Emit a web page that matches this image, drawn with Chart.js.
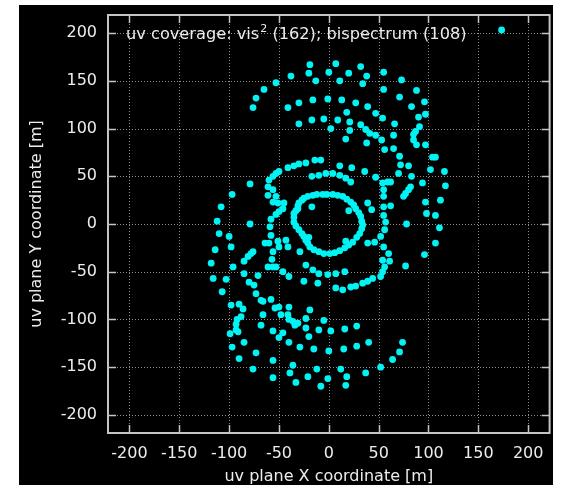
<!DOCTYPE html>
<html>
<head>
<meta charset="utf-8">
<script src="https://cdn.jsdelivr.net/npm/chart.js@4.4.1/dist/chart.umd.min.js"></script>
<style>
  html, body { margin: 0; padding: 0; background: #ffffff; }
  #wrap { position: absolute; left: 19px; top: 5px; width: 534px; height: 480px; background: #000000; }
  canvas { display: block; }
</style>
</head>
<body>
<div id="wrap"><canvas id="uv" width="534" height="480"></canvas></div>
<script>
// Axis ticks and limits (metres)
const tickValues = [-200, -150, -100, -50, 0, 50, 100, 150, 200];
const xLimits = [-221.5, 221.5];
const yLimits = [-219, 219];

const keyParts = ['uv coverage: vis', '2', ' (162); bispectrum (108)'];
const xTitle = 'uv plane X coordinate [m]';
const yTitle = 'uv plane Y coordinate [m]';

// uv samples [u, v] in metres, grouped by track
const cloverLoop = [
  [-25,27],[-21,29],[-16,30],[-12,31],[-6,31],[-2,31],[4,31],[9,30],[14,29],[18,26],[22,23],[25,20],
  [27,16],[30,12],[32,8],[33,3],[34,-1],[33,-5],[31,-10],[28,-14],[24,-19],[20,-22],[16,-25],[11,-28],
  [6,-30],[1,-31],[-5,-31],[-10,-29],[-15,-27],[-19,-24],[-21,-20],[-23,-17],[-25,-13],[-27,-10],
  [-30,-6],[-33,-2],[-35,2],[-35,7],[-35,11],[-33,14],[-31,16],[-31,19],[-30,22],[-27,25],
  [20,14],[-20,-14],[17,-18],[-17,18]
];
const innerArcs = [
  [-17,50],[-10,51],[-3,53],[4,53],[11,51],[17,48],[22,44],
  [-23,-43],[-16,-48],[-10,-52],[-1,-53],[7,-52],[16,-50]
];
const ringPoints = [
  [-14,67],[-8,67],[-23,64],[-30,63],[-35,61],[-41,59],[-50,55],[-53,53],[-56,50],[-60,46],[-61,39],
  [11,61],[23,59],[36,55],[47,49],[54,43],[59,44],[62,44],
  [-61,30],[-56,36],[-53,29],[-56,23],[-51,22],[-45,22],[-46,16],[-50,13],[-53,10],[-58,5],[-59,-3],
  [-58,-12],[-60,-20],[-64,-20],[-51,-18],[-50,-24],[-43,-17],[-41,-24],[-56,-29],[-57,-37],[-61,-45],
  [-56,-45],[-53,-45],[-46,-50],[-40,-55],[-29,-29],[-25,-60],[-11,-62],
  [55,36],[55,29],[62,19],[55,18],[55,9],[57,2],[56,-6],[52,-13],[55,-24],[60,-31],[54,-38],[61,-39],
  [56,-45],[54,-50],[52,-55],[39,22],[43,15],[46,-19],[39,-20],
  [7,-67],[14,-69],[22,-66],[27,-65],[34,-62],[39,-60],[44,-57]
];
const northArcs = [
  [-19,167],[7,168],[32,165],[-38,155],[-20,158],[0,159],[20,158],[38,155],[-13,150],[11,150],[34,147],
  [-53,148],[-65,141],[-73,132],[-76,122],[-41,122],[-30,127],[-16,130],[-1,131],[13,130],[27,127],
  [39,123],[47,116],[18,117],[-30,105],[-17,109],[-5,110],[9,109],[21,107],[2,100],[21,98],[32,104],
  [37,99],[41,95],[47,93],[17,89],[38,85],
  [55,159],[73,151],[55,141],[88,140],[71,133],[96,128],[83,123],[97,115],[90,112],[54,111],[66,105],
  [91,102],[87,97],[85,94],[65,93],[53,88],[85,88],[88,83],[97,83],[56,78],[65,79],[71,71],[104,70],
  [107,70],[72,62],[80,61],[102,57],[116,55],[70,53],[83,50],[94,43],[117,40],[82,39],[80,36],[77,32],
  [75,29],[112,25],[97,23],[107,9],[98,11],[78,0],[111,-4],[107,-20],[96,-32],[77,-44],
  [-79,42],[-97,31],[-108,18],[-112,3],[-79,0]
];
const southArcs = [
  [-110,-10],[-100,-13],[-98,-24],[-114,-27],[-118,-41],[-96,-45],[-116,-57],[-103,-58],[-107,-71],
  [-85,-39],[-81,-34],[-78,-31],[-76,-29],[-85,-52],[-80,-61],[-75,-64],[-71,-54],[-73,-73],[-68,-80],
  [-58,-79],[-54,-88],[-48,-95],[-40,-87],[-66,-95],[-90,-84],[-98,-85],[-86,-89],[-88,-97],[-92,-100],
  [-93,-105],[-93,-111],[-99,-115],[-91,-113],[-97,-129],[-85,-124],[-73,-135],[-90,-141],[-76,-152],
  [-56,-143],[-56,-161],[-66,-81],[-50,-87],[-41,-95],[-40,-100],[-36,-102],[-34,-106],[-31,-104],
  [-68,-106],[-56,-112],[-46,-114],[-50,-119],[-40,-124],[-23,-99],[-19,-90],[-5,-101],[-23,-109],
  [-10,-111],[2,-112],[16,-110],[28,-107],[-20,-118],[-29,-129],[-15,-131],[0,-133],[15,-131],[28,-128],
  [40,-124],[74,-124],[71,-134],[64,-142],[52,-150],[37,-156],[12,-152],[-12,-152],[-36,-148],[-39,-156],
  [-21,-160],[-1,-162],[18,-160],[-33,-166],[-8,-170],[17,-169]
];

const uvSamples = [...cloverLoop, ...innerArcs, ...ringPoints, ...northArcs, ...southArcs]
  .map(([u, v]) => ({ x: u, y: v }));

const FONT = 'DejaVu Sans';
const TEXT = '#ececec';
const POINT = '#00f4f4';

// Dotted grid, inward tick marks, frame, key and axis titles
const framePlugin = {
  id: 'frame',
  beforeDatasetsDraw(chart) {
    const { ctx, chartArea: a, scales: { x, y } } = chart;
    ctx.save();
    ctx.lineWidth = 1;
    ctx.strokeStyle = '#8e8e8e';
    ctx.setLineDash([1, 2]);
    tickValues.forEach(v => {
      const px = Math.round(x.getPixelForValue(v)) + 0.5;
      ctx.beginPath(); ctx.moveTo(px, a.top); ctx.lineTo(px, a.bottom); ctx.stroke();
      const py = Math.round(y.getPixelForValue(v)) + 0.5;
      ctx.beginPath(); ctx.moveTo(a.left, py); ctx.lineTo(a.right, py); ctx.stroke();
    });
    ctx.setLineDash([]);
    ctx.strokeStyle = '#c4c4c4';
    ctx.lineWidth = 1.5;
    const tl = 8;
    tickValues.forEach(v => {
      const px = Math.round(x.getPixelForValue(v)) + 0.5;
      ctx.beginPath();
      ctx.moveTo(px, a.bottom); ctx.lineTo(px, a.bottom - tl);
      ctx.moveTo(px, a.top); ctx.lineTo(px, a.top + tl);
      ctx.stroke();
      const py = Math.round(y.getPixelForValue(v)) + 0.5;
      ctx.beginPath();
      ctx.moveTo(a.left, py); ctx.lineTo(a.left + tl, py);
      ctx.moveTo(a.right, py); ctx.lineTo(a.right - tl, py);
      ctx.stroke();
    });
    ctx.lineWidth = 2;
    ctx.strokeRect(a.left, a.top, a.right - a.left, a.bottom - a.top);
    ctx.restore();
  },
  afterDatasetsDraw(chart) {
    const { ctx, chartArea: a } = chart;
    ctx.save();
    ctx.fillStyle = TEXT;
    ctx.textBaseline = 'alphabetic';
    ctx.textAlign = 'left';
    // key text with superscript
    let kx = a.left + 18;
    const ky = a.top + 24;
    ctx.font = `16.2px "${FONT}"`;
    ctx.fillText(keyParts[0], kx, ky);
    kx += ctx.measureText(keyParts[0]).width + 1;
    ctx.font = `11px "${FONT}"`;
    ctx.fillText(keyParts[1], kx, ky - 7);
    kx += ctx.measureText(keyParts[1]).width;
    ctx.font = `16.2px "${FONT}"`;
    ctx.fillText(keyParts[2], kx, ky);
    // key sample
    const ds = chart.data.datasets[0];
    ctx.fillStyle = ds.backgroundColor;
    ctx.beginPath();
    ctx.arc(a.right - 48, a.top + 15, ds.pointRadius, 0, Math.PI * 2);
    ctx.fill();
    // axis titles
    ctx.fillStyle = TEXT;
    ctx.font = `16px "${FONT}"`;
    ctx.textAlign = 'center';
    ctx.textBaseline = 'middle';
    ctx.fillText(xTitle, (a.left + a.right) / 2, 472);
    ctx.translate(18, (a.top + a.bottom) / 2);
    ctx.rotate(-Math.PI / 2);
    ctx.fillText(yTitle, 0, 0);
    ctx.restore();
  }
};

const tickOpts = (pad) => ({
  color: TEXT,
  font: { family: FONT, size: 16 },
  padding: pad,
  maxRotation: 0,
  autoSkip: false
});

// fixed axis sizes; the frame is sized by layout padding alone
const fixX = s => { s.height = 52; s.paddingLeft = 0; s.paddingRight = 0; };
const fixY = s => { s.width = 89; s.paddingTop = 0; s.paddingBottom = 0; };

new Chart(document.getElementById('uv'), {
  type: 'scatter',
  data: {
    datasets: [{
      data: uvSamples,
      backgroundColor: POINT,
      borderWidth: 0,
      pointRadius: 3.4,
      pointHoverRadius: 3.4
    }]
  },
  options: {
    responsive: false,
    animation: false,
    events: [],
    layout: { padding: { top: 10, right: 3, left: 0, bottom: 0 } },
    plugins: { legend: { display: false }, tooltip: { enabled: false } },
    scales: {
      x: {
        type: 'linear',
        min: xLimits[0], max: xLimits[1],
        grid: { display: false, drawTicks: false },
        border: { display: false },
        ticks: tickOpts(11),
        afterBuildTicks: s => { s.ticks = tickValues.map(v => ({ value: v })); },
        afterFit: fixX
      },
      y: {
        type: 'linear',
        min: yLimits[0], max: yLimits[1],
        grid: { display: false, drawTicks: false },
        border: { display: false },
        ticks: tickOpts(11),
        afterBuildTicks: s => { s.ticks = tickValues.map(v => ({ value: v })); },
        afterFit: fixY
      }
    }
  },
  plugins: [framePlugin]
});
</script>
</body>
</html>
